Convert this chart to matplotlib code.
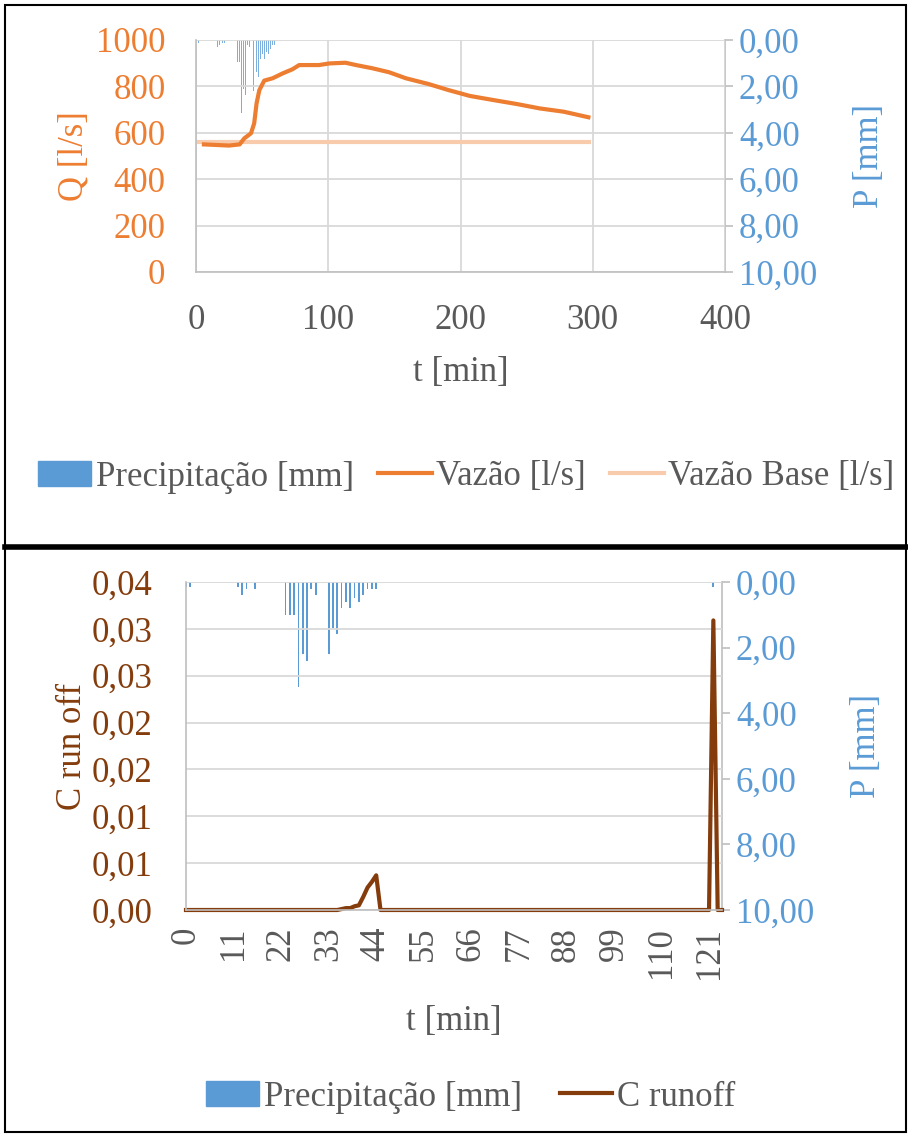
import numpy as np
import matplotlib
matplotlib.use("Agg")
from matplotlib import pyplot as plt
from matplotlib.lines import Line2D
from matplotlib.patches import Patch, Rectangle

plt.rcParams['font.family'] = ['Liberation Serif', 'DejaVu Serif']

# ---- top chart data (t in min) ----
vazao_t = [6, 25, 33, 36.5, 41.6, 44, 45.8, 47.9, 51.6, 57.9, 65.5, 73, 78, 93, 100.8, 113,
           121, 133.5, 146, 158.7, 176, 191, 207, 225, 242.6, 260, 278, 296.7]
vazao_q = [550, 545, 550, 576, 598, 641, 727, 784, 825, 835, 856, 874, 892, 892, 899, 902,
           892, 878, 861, 835, 810, 784, 759, 741, 724, 705, 691, 667]
base_t = [0, 297]
base_q = [560, 560]
rain_top_t = [1.8, 16.4, 18.1, 19.9, 21.4, 31.3, 32.8, 34.5, 36.0, 37.5, 39.0, 40.8, 43.8,
              45.4, 47.1, 48.6, 50.1, 51.6, 53.2, 54.7, 56.2, 57.7, 59.2, 165.6]
rain_top_p = [0.15, 0.3, 0.2, 0.15, 0.15, 0.93, 0.93, 3.16, 2.1, 2.37, 0.2, 0.3, 2.2,
              1.4, 1.6, 0.8, 0.6, 0.8, 0.5, 0.6, 0.4, 0.2, 0.2, 0.15]

# ---- bottom chart data (category index) ----
rain_bot_i = [0, 1, 12, 13, 14, 16, 23, 24, 25, 26, 27, 28, 29, 30,
              33, 34, 35, 36, 37, 38, 39, 40, 41, 42, 43, 44, 122]
rain_bot_p = [0.15, 0.15, 0.15, 0.4, 0.2, 0.2, 1.0, 1.0, 1.0, 3.2, 2.2, 2.4, 0.2, 0.4,
              2.2, 1.4, 1.6, 0.8, 0.6, 0.8, 0.5, 0.6, 0.4, 0.2, 0.2, 0.2, 0.15]
runoff_i = [0, 35, 36, 37, 38, 39, 40, 41, 42, 43, 44, 45, 121, 122, 123, 124]
runoff_c = [0, 0, 0.0001, 0.0002, 0.0002, 0.0004, 0.0005, 0.0014, 0.0024, 0.003, 0.0037, 0,
            0, 0.0309, 0, 0]
bot_xticks = [0, 11, 22, 33, 44, 55, 66, 77, 88, 99, 110, 121]
c_ticks = [0, 0.005, 0.01, 0.015, 0.02, 0.025, 0.03, 0.035]
c_labels = ['0,00', '0,01', '0,01', '0,02', '0,02', '0,03', '0,03', '0,04']
p_ticks = [0, 2, 4, 6, 8, 10]
p_labels = ['0,00', '2,00', '4,00', '6,00', '8,00', '10,00']

ORANGE = '#ED7D31'
ORANGE_LT = '#F8CBAD'
BLUE = '#5B9BD5'
BROWN = '#843C0C'
GRAY = '#595959'
GRID = '#D9D9D9'
FS = 25

W, H = 908, 1135
fig = plt.figure(figsize=(W / 100, H / 100), dpi=100)


def box(l, r, t, b):
    return [l / W, 1 - b / H, (r - l) / W, (b - t) / H]


def style_axes(ax, ax2, ycolor):
    ax.spines['top'].set_visible(False)
    ax2.spines['top'].set_visible(False)
    ax2.spines['left'].set_visible(False)
    ax2.spines['bottom'].set_visible(False)
    for s in ['left', 'bottom']:
        ax.spines[s].set_color('#BFBFBF')
        ax.spines[s].set_linewidth(1.2)
    ax.spines['right'].set_visible(False)
    ax2.spines['right'].set_color('#BFBFBF')
    ax2.spines['right'].set_linewidth(1.2)
    ax.tick_params(axis='y', length=0, pad=22, labelsize=FS, labelcolor=ycolor)
    ax2.tick_params(axis='y', length=6, width=1.2, color='#BFBFBF', pad=4,
                    labelsize=FS, labelcolor=BLUE)


# ================= top chart =================
ax = fig.add_axes(box(196, 725, 40, 272))
ax2 = ax.twinx()
ax.set_zorder(ax2.get_zorder() + 1)
ax.patch.set_visible(False)

ax.plot(base_t, base_q, color=ORANGE_LT, lw=3)
ax.plot(vazao_t, vazao_q, color=ORANGE, lw=3)
ax2.bar(rain_top_t, rain_top_p, width=0.7, color=BLUE, alpha=0.8)

ax.set_xlim(0, 400)
ax.set_ylim(0, 1000)
ax.set_yticks(range(0, 1001, 200))
ax.set_xticks(range(0, 401, 100))
ax.grid(True, color=GRID, lw=1.3)
ax.set_axisbelow(True)
ax2.set_ylim(10, 0)
ax2.set_yticks(p_ticks)
ax2.set_yticklabels(p_labels)
style_axes(ax, ax2, ORANGE)
ax.tick_params(axis='x', length=0, pad=23, labelsize=FS, labelcolor=GRAY)
ax.set_xlabel('t [min]', fontsize=FS, color=GRAY, labelpad=14)
ax.set_ylabel('Q [l/s]', fontsize=FS, color=ORANGE, labelpad=4)
ax2.set_ylabel('P [mm]', fontsize=FS, color=BLUE, labelpad=26)

handles = [Patch(color=BLUE), Line2D([], [], color=ORANGE, lw=3),
           Line2D([], [], color=ORANGE_LT, lw=3)]
fig.legend(handles, ['Precipitação [mm]', 'Vazão [l/s]', 'Vazão Base [l/s]'],
           loc='center', bbox_to_anchor=(466 / W, 1 - 477 / H), ncol=3, frameon=False,
           fontsize=FS, labelcolor=GRAY, handlelength=1.55, handleheight=0.75,
           handletextpad=0.12, columnspacing=0.7, borderpad=0, borderaxespad=0)

# ================= bottom chart =================
bx = fig.add_axes(box(186, 722, 582, 910))
bx2 = bx.twinx()
bx.set_zorder(bx2.get_zorder() + 1)
bx.patch.set_visible(False)

bx.plot(runoff_i, runoff_c, color=BROWN, lw=3, clip_on=False)
bx2.bar(rain_bot_i, rain_bot_p, width=0.4, color=BLUE)

bx.set_xlim(0, 124)
bx.set_ylim(0, 0.035)
bx.set_yticks(c_ticks)
bx.set_yticklabels(c_labels)
bx.set_xticks(bot_xticks)
bx.set_xticklabels([str(v) for v in bot_xticks], rotation=90)
bx.grid(True, axis='y', color=GRID, lw=1.3)
bx.set_axisbelow(True)
bx2.set_ylim(10, 0)
bx2.set_yticks(p_ticks)
bx2.set_yticklabels(p_labels)
style_axes(bx, bx2, BROWN)
bx.tick_params(axis='y', pad=24)
bx.tick_params(axis='x', length=0, pad=12, labelsize=FS, labelcolor=GRAY)
bx.set_xlabel('t [min]', fontsize=FS, color=GRAY, labelpad=19)
bx.set_ylabel('C run off', fontsize=FS, color=BROWN, labelpad=2)
bx2.set_ylabel('P [mm]', fontsize=FS, color=BLUE, labelpad=26)

handles = [Patch(color=BLUE), Line2D([], [], color=BROWN, lw=3)]
fig.legend(handles, ['Precipitação [mm]', 'C runoff'],
           loc='center', bbox_to_anchor=(471 / W, 1 - 1097 / H), ncol=2, frameon=False,
           fontsize=FS, labelcolor=GRAY, handlelength=1.5, handleheight=0.75,
           handletextpad=0.15, columnspacing=1.1, borderpad=0, borderaxespad=0)

# frame and separator
fig.add_artist(Rectangle((5 / W, 3 / H), 901 / W, 1127 / H, transform=fig.transFigure,
                         fill=False, ec='black', lw=1.5))
fig.add_artist(Line2D([5 / W, 1], [1 - 547 / H] * 2, transform=fig.transFigure,
                      color='black', lw=4))

fig.savefig('out.png', dpi=100)
